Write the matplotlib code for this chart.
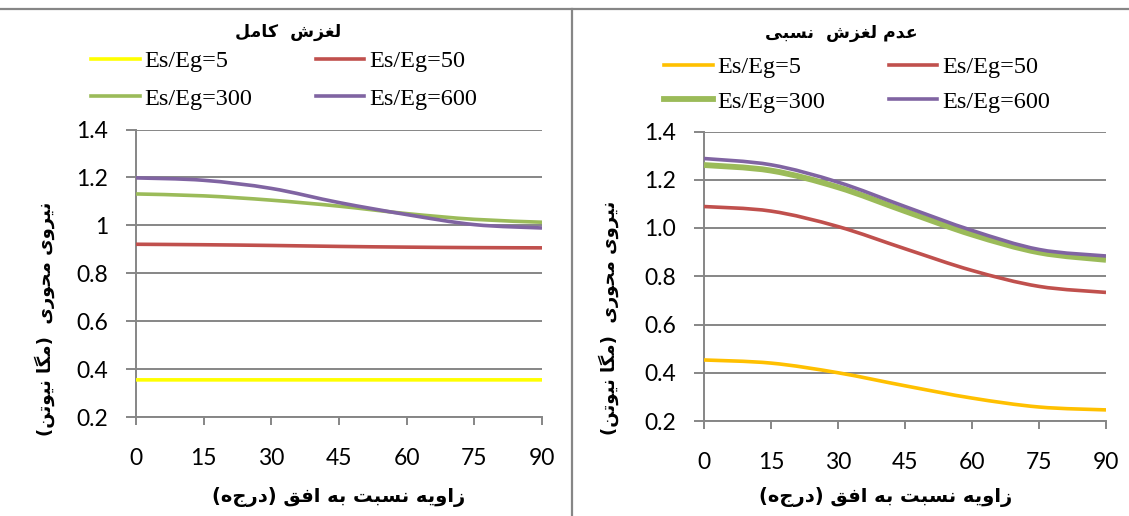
import matplotlib
matplotlib.use('Agg')
import matplotlib.pyplot as plt
from matplotlib.path import Path
from matplotlib.patches import PathPatch
from matplotlib.lines import Line2D

# angle to the horizontal (degrees)
angles = [0, 15, 30, 45, 60, 75, 90]
ratio_labels = ['Es/Eg=5', 'Es/Eg=50', 'Es/Eg=300', 'Es/Eg=600']

# full slip case, axial force (MN)
slip_5 = [0.355, 0.355, 0.355, 0.355, 0.355, 0.355, 0.355]
slip_50 = [0.921, 0.919, 0.916, 0.912, 0.909, 0.907, 0.906]
slip_300 = [1.131, 1.123, 1.105, 1.080, 1.049, 1.025, 1.013]
slip_600 = [1.198, 1.188, 1.154, 1.095, 1.045, 1.003, 0.989]

# no relative slip case, axial force (MN)
noslip_5 = [0.453, 0.440, 0.400, 0.346, 0.295, 0.258, 0.246]
noslip_50 = [1.089, 1.070, 1.006, 0.914, 0.824, 0.758, 0.733]
noslip_300 = [1.261, 1.238, 1.169, 1.070, 0.973, 0.899, 0.868]
noslip_600 = [1.288, 1.262, 1.190, 1.089, 0.990, 0.911, 0.884]

title_slip = 'لغزش  کامل'
title_noslip = 'عدم لغزش  نسبی'
ylabel_text = 'نیروی محوری  (مگا نیوتن)'
xlabel_text = 'زاویه نسبت به افق (درجه)'

GRID = '#868686'

# Arabic presentation forms: isolated, final, initial, medial
FORMS = {
    '\u0627': '\uFE8D\uFE8E',
    '\u0628': '\uFE8F\uFE90\uFE91\uFE92',
    '\u062A': '\uFE95\uFE96\uFE97\uFE98',
    '\u062D': '\uFEA1\uFEA2\uFEA3\uFEA4',
    '\u062F': '\uFEA9\uFEAA',
    '\u0631': '\uFEAD\uFEAE',
    '\u0632': '\uFEAF\uFEB0',
    '\u0633': '\uFEB1\uFEB2\uFEB3\uFEB4',
    '\u0634': '\uFEB5\uFEB6\uFEB7\uFEB8',
    '\u0639': '\uFEC9\uFECA\uFECB\uFECC',
    '\u063A': '\uFECD\uFECE\uFECF\uFED0',
    '\u0641': '\uFED1\uFED2\uFED3\uFED4',
    '\u0642': '\uFED5\uFED6\uFED7\uFED8',
    '\u0644': '\uFEDD\uFEDE\uFEDF\uFEE0',
    '\u0645': '\uFEE1\uFEE2\uFEE3\uFEE4',
    '\u0646': '\uFEE5\uFEE6\uFEE7\uFEE8',
    '\u0647': '\uFEE9\uFEEA\uFEEB\uFEEC',
    '\u0648': '\uFEED\uFEEE',
    '\u06A9': '\uFB8E\uFB8F\uFB90\uFB91',
    '\u06AF': '\uFB92\uFB93\uFB94\uFB95',
    '\u06CC': '\uFBFC\uFBFD\uFBFE\uFBFF',
}


def farsi(text):
    """Join letters and put the string in left-to-right display order."""
    text = text.replace('\u064A', '\u06CC').replace('\u0643', '\u06A9')
    out = []
    for i, ch in enumerate(text):
        f = FORMS.get(ch)
        if f is None:
            out.append(ch)
            continue
        prev = FORMS.get(text[i - 1]) if i > 0 else None
        nxt = FORMS.get(text[i + 1]) if i + 1 < len(text) else None
        after = prev is not None and len(prev) == 4
        before = len(f) == 4 and nxt is not None
        out.append(f[3] if after and before else f[1] if after else f[2] if before else f[0])
    return ''.join(out)[::-1].translate(str.maketrans('()', ')('))


def smooth_line(ax, x, y, color, lw):
    # Excel-style smoothed line: cubic Bezier segments through the points
    n = len(x)
    pts = list(zip(x, y))
    verts = [pts[0]]
    codes = [Path.MOVETO]
    for i in range(n - 1):
        p0 = pts[max(i - 1, 0)]
        p1 = pts[i]
        p2 = pts[i + 1]
        p3 = pts[min(i + 2, n - 1)]
        c1 = (p1[0] + (p2[0] - p0[0]) / 6, p1[1] + (p2[1] - p0[1]) / 6)
        c2 = (p2[0] - (p3[0] - p1[0]) / 6, p2[1] - (p3[1] - p1[1]) / 6)
        verts += [c1, c2, p2]
        codes += [Path.CURVE4] * 3
    ax.add_patch(PathPatch(Path(verts, codes), fill=False, edgecolor=color,
                           lw=lw, capstyle='butt', zorder=3))


def style_axes(ax, fmt):
    ax.set_xlim(0, 90)
    ax.set_ylim(0.2, 1.4)
    ax.set_xticks(angles)
    ax.set_yticks([0.2, 0.4, 0.6, 0.8, 1.0, 1.2, 1.4])
    ax.set_yticklabels([fmt(v) for v in ax.get_yticks()])
    for s in ['top', 'right']:
        ax.spines[s].set_visible(False)
    for s in ['left', 'bottom']:
        ax.spines[s].set_color(GRID)
        ax.spines[s].set_linewidth(1.4)
    ax.grid(axis='y', color=GRID, lw=1.4)
    ax.set_axisbelow(True)
    ax.tick_params(axis='y', direction='out', length=7, width=1.4, color=GRID,
                   pad=13, labelsize=16.5)
    ax.tick_params(axis='x', direction='out', length=6, width=1.4, color=GRID,
                   pad=16, labelsize=16.5)
    for lab in ax.get_xticklabels() + ax.get_yticklabels():
        lab.set_fontfamily('Lato')


fig = plt.figure(figsize=(11.29, 5.16), dpi=100)
W, H = 1129, 516

ax1 = fig.add_axes([136 / W, 1 - 417 / H, 406 / W, 287.5 / H])
ax2 = fig.add_axes([704 / W, 1 - 421 / H, 402 / W, 289.5 / H])

left_colors = ['#FFFF00', '#C0504D', '#9BBB59', '#8064A2']
right_colors = ['#FFC000', '#C0504D', '#9BBB59', '#8064A2']
left_widths = [2.6, 2.6, 2.6, 2.6]
right_widths = [2.6, 2.6, 4.2, 2.6]

for ys, c, lw in zip([slip_5, slip_50, slip_300, slip_600], left_colors, left_widths):
    smooth_line(ax1, angles, ys, c, lw)
for ys, c, lw in zip([noslip_5, noslip_50, noslip_300, noslip_600], right_colors, right_widths):
    smooth_line(ax2, angles, ys, c, lw)

style_axes(ax1, lambda v: '%g' % v)
style_axes(ax2, lambda v: '%.1f' % v)

legend_font = {'family': 'Liberation Serif', 'size': 17.5}
order = [0, 2, 1, 3]
for ax, colors, widths, pos, gap in [(ax1, left_colors, left_widths, (284, 80), 0.62),
                                     (ax2, right_colors, right_widths, (857, 84.5), 0.5)]:
    handles = [Line2D([], [], color=colors[i], lw=widths[i]) for i in order]
    labels = [ratio_labels[i] for i in order]
    ax.legend(handles, labels, ncol=2, loc='center', frameon=False, prop=legend_font,
              bbox_to_anchor=(pos[0] / W, 1 - pos[1] / H), bbox_transform=fig.transFigure,
              handlelength=2.0, handletextpad=0.2, columnspacing=2.6,
              labelspacing=gap, borderpad=0)

arabic = {'family': 'DejaVu Sans', 'weight': 'bold'}
fig.text(288 / W, 1 - 32 / H, farsi(title_slip), ha='center', va='center', fontsize=12.5, **arabic)
fig.text(841 / W, 1 - 33 / H, farsi(title_noslip), ha='center', va='center', fontsize=12.5, **arabic)
fig.text(339 / W, 1 - 497 / H, farsi(xlabel_text), ha='center', va='center', fontsize=14, **arabic)
fig.text(886 / W, 1 - 497 / H, farsi(xlabel_text), ha='center', va='center', fontsize=14, **arabic)
fig.text(45 / W, 1 - 319 / H, farsi(ylabel_text), ha='center', va='center', rotation=90,
         fontsize=13, **arabic)
fig.text(609 / W, 1 - 318 / H, farsi(ylabel_text), ha='center', va='center', rotation=90,
         fontsize=13, **arabic)

# chart frames
fig.add_artist(Line2D([0, 1], [1 - 8.5 / H, 1 - 8.5 / H], color=GRID, lw=1.6))
fig.add_artist(Line2D([572 / W, 572 / W], [0, 1 - 8.5 / H], color=GRID, lw=1.6))

fig.savefig('out.png', dpi=100)
